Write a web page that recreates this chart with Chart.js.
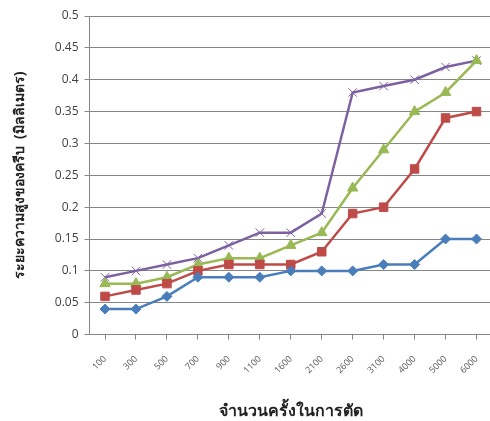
<!DOCTYPE html>
<html lang="th">
<head>
    <meta charset="UTF-8">
    <title>ระยะความสูงของครีบ</title>
    <script src="https://cdn.jsdelivr.net/npm/chart.js"></script>
    <style>
        html, body { margin: 0; padding: 0; background: #ffffff; overflow: hidden; }
        /* the plot runs slightly past the right edge, so the canvas is wider than the box */
        #chartContainer { width: 490px; height: 421px; overflow: hidden; }
    </style>
</head>
<body>
    <div id="chartContainer">
        <canvas id="burrChart" width="499" height="421"></canvas>
    </div>
    <script>
        // cut counts along the x axis
        const cuts = ['100', '300', '500', '700', '900', '1100', '1600', '2100', '2600', '3100', '4000', '5000', '6000'];

        // burr height (mm) for each series
        const seriesBlue   = [0.04, 0.04, 0.06, 0.09, 0.09, 0.09, 0.10, 0.10, 0.10, 0.11, 0.11, 0.15, 0.15];
        const seriesRed    = [0.06, 0.07, 0.08, 0.10, 0.11, 0.11, 0.11, 0.13, 0.19, 0.20, 0.26, 0.34, 0.35];
        const seriesGreen  = [0.08, 0.08, 0.09, 0.11, 0.12, 0.12, 0.14, 0.16, 0.23, 0.29, 0.35, 0.38, 0.43];
        const seriesPurple = [0.09, 0.10, 0.11, 0.12, 0.14, 0.16, 0.16, 0.19, 0.38, 0.39, 0.40, 0.42, 0.43];

        const yTicks = [0, 0.05, 0.1, 0.15, 0.2, 0.25, 0.3, 0.35, 0.4, 0.45, 0.5];

        const titleFont = "'Noto Sans', 'DejaVu Sans', sans-serif";
        const tickFont = "'Open Sans', 'Liberation Sans', sans-serif";

        function line(data, color, style, radius) {
            return {
                data: data,
                borderColor: color,
                backgroundColor: color,
                borderWidth: 2.5,
                pointStyle: style,
                pointRadius: radius,
                pointBorderColor: color,
                pointBackgroundColor: color,
                pointBorderWidth: 1,
                tension: 0
            };
        }

        const ctx = document.getElementById('burrChart').getContext('2d');
        new Chart(ctx, {
            type: 'line',
            data: {
                labels: cuts,
                datasets: [
                    line(seriesBlue, '#4A7EBB', 'rectRot', 5),
                    line(seriesRed, '#BE4B48', 'rect', 6),
                    line(seriesGreen, '#98B954', 'triangle', 6),
                    line(seriesPurple, '#7D60A0', 'crossRot', 6)
                ]
            },
            options: {
                responsive: false,
                animation: false,
                layout: { padding: { left: 3, right: 0, top: 16, bottom: 0 } },
                plugins: {
                    legend: { display: false },
                    tooltip: { enabled: false }
                },
                scales: {
                    x: {
                        offset: true,
                        grid: {
                            display: true,
                            drawOnChartArea: false,
                            tickLength: 5,
                            color: '#868686'
                        },
                        border: { color: '#868686' },
                        ticks: {
                            minRotation: 45,
                            maxRotation: 45,
                            color: '#595959',
                            font: { family: tickFont, size: 9 },
                            padding: 14
                        },
                        title: {
                            display: true,
                            text: 'จำนวนครั้งในการตัด',
                            color: '#222222',
                            font: { family: titleFont, size: 16, weight: 'bold' },
                            padding: { top: 12, bottom: 0 }
                        }
                    },
                    y: {
                        min: 0,
                        max: 0.5,
                        afterBuildTicks: axis => {
                            axis.ticks = yTicks.map(v => ({ value: v }));
                        },
                        grid: {
                            color: '#868686',
                            tickLength: 5
                        },
                        border: { color: '#868686' },
                        ticks: {
                            color: '#404040',
                            font: { family: tickFont, size: 12 },
                            padding: 6,
                            callback: v => String(+v.toFixed(2))
                        },
                        title: {
                            display: true,
                            text: 'ระยะความสูงของครีบ  (มิลลิเมตร)',
                            color: '#222222',
                            font: { family: titleFont, size: 14, weight: 'bold' },
                            padding: { top: 9, bottom: 20 }
                        }
                    }
                }
            }
        });
    </script>
</body>
</html>
